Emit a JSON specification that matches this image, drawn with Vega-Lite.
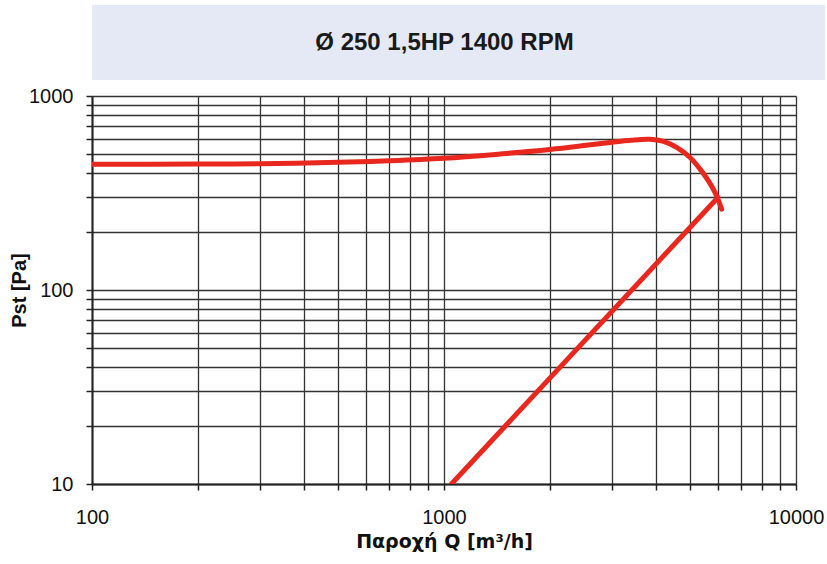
{
  "$schema": "https://vega.github.io/schema/vega-lite/v6.json",
  "padding": {"left": 9, "top": 5, "right": 2, "bottom": 5},
  "background": "white",
  "config": {
    "font": "Liberation Sans",
    "view": {"stroke": null},
    "axis": {
      "grid": true,
      "gridColor": "#333333",
      "gridWidth": 1.3,
      "gridOpacity": 1,
      "domainColor": "#222222",
      "domainWidth": 2,
      "tickColor": "#222222",
      "tickWidth": 1.5,
      "tickSize": 6,
      "labelFont": "Liberation Sans",
      "labelFontSize": 20,
      "labelColor": "#111111",
      "titleFont": "Liberation Sans",
      "titleFontSize": 20,
      "titleFontWeight": "bold",
      "titleColor": "#111111"
    }
  },
  "vconcat": [
    {
      "width": 733,
      "height": 75,
      "view": {"fill": "#e4e9f5", "stroke": null},
      "data": {"values": [{"t": "Ø 250 1,5HP 1400 RPM"}]},
      "mark": {"type": "text", "font": "Liberation Sans", "fontWeight": "bold", "fontSize": 24, "dx": -14, "color": "#1a1a1a"},
      "encoding": {"text": {"field": "t"}}
    },
    {
      "width": 704,
      "height": 388,
      "data": {
        "values": [
          {"curve": "fan", "Q": 100, "P": 445},
          {"curve": "fan", "Q": 200, "P": 446},
          {"curve": "fan", "Q": 300, "P": 448},
          {"curve": "fan", "Q": 500, "P": 455},
          {"curve": "fan", "Q": 700, "P": 464},
          {"curve": "fan", "Q": 1000, "P": 478},
          {"curve": "fan", "Q": 1400, "P": 500},
          {"curve": "fan", "Q": 2000, "P": 530},
          {"curve": "fan", "Q": 2500, "P": 555},
          {"curve": "fan", "Q": 3000, "P": 578},
          {"curve": "fan", "Q": 3400, "P": 592},
          {"curve": "fan", "Q": 3850, "P": 598},
          {"curve": "fan", "Q": 4200, "P": 583},
          {"curve": "fan", "Q": 4580, "P": 543},
          {"curve": "fan", "Q": 5000, "P": 482},
          {"curve": "fan", "Q": 5340, "P": 420},
          {"curve": "fan", "Q": 5640, "P": 365},
          {"curve": "fan", "Q": 5890, "P": 318},
          {"curve": "fan", "Q": 6000, "P": 294},
          {"curve": "fan", "Q": 6150, "P": 261},
          {"curve": "system", "Q": 1050, "P": 10},
          {"curve": "system", "Q": 6000, "P": 300}
        ]
      },
      "mark": {"type": "line", "color": "#e8281e", "strokeWidth": 5, "strokeCap": "round", "interpolate": "catmull-rom", "clip": true},
      "encoding": {
        "x": {
          "field": "Q",
          "type": "quantitative",
          "scale": {"type": "log", "domain": [100, 10000], "nice": false},
          "axis": {
            "title": "Παροχή Q [m³/h]",
            "titleFont": "DejaVu Sans",
            "titleFontSize": 19,
            "values": [100, 200, 300, 400, 500, 600, 700, 800, 900, 1000, 2000, 3000, 4000, 5000, 6000, 7000, 8000, 9000, 10000],
            "format": "d",
            "labelExpr": "datum.value == 100 || datum.value == 1000 || datum.value == 10000 ? datum.label : ''",
            "labelPadding": 17,
            "labelFlush": false,
            "labelOverlap": false,
            "titlePadding": 5
          }
        },
        "y": {
          "field": "P",
          "type": "quantitative",
          "scale": {"type": "log", "domain": [10, 1000], "nice": false},
          "axis": {
            "title": "Pst [Pa]",
            "values": [10, 20, 30, 40, 50, 60, 70, 80, 90, 100, 200, 300, 400, 500, 600, 700, 800, 900, 1000],
            "format": "d",
            "labelExpr": "datum.value == 10 || datum.value == 100 || datum.value == 1000 ? datum.label : ''",
            "labelPadding": 13,
            "labelFlush": false,
            "labelOverlap": false,
            "titleX": -63,
            "titleY": 194
          }
        },
        "detail": {"field": "curve"},
        "order": {"field": "Q", "type": "quantitative"}
      }
    }
  ],
  "spacing": 6
}
